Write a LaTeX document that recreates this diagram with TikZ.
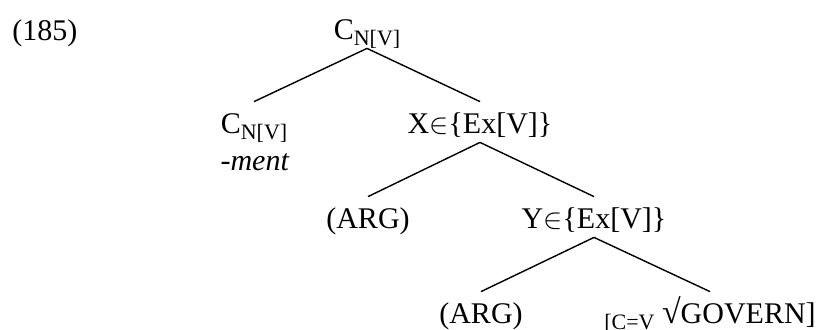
\documentclass[tikz,border=0pt]{standalone}
\usepackage{fontspec}
\setmainfont{Liberation Serif}
\usepackage{tikz}
\usetikzlibrary{positioning}
\def\lo#1{\raisebox{-0.2em}{\fontsize{11}{13}\selectfont #1}}
\tikzset{cat/.style={font=\fontsize{15}{17}\selectfont, inner xsep=0pt, inner ysep=1.5pt, text height=14pt, text depth=3pt, anchor=base},
	branch/.style={line width=0.7pt}}

\begin{document}
\begin{tikzpicture}[x=0.5pt, y=-0.5pt]
			%%%%% START %%%%%
			\useasboundingbox (0, 0) rectangle (823, 329);
			
			\node[cat, anchor=base west] (ex) at (12, 40) {(185)};
			
			\node[cat] (root) at (367, 39) {C\lo{N[V]}};
			\node[cat] (cn) at (254, 133) {C\lo{N[V]}};
			\node[cat] (ment) at (255, 170) {\textit{-ment}};
			\node[cat] (xp) at (480, 133) {X$\in$\{Ex[V]\}};
			\node[cat] (argx) at (368, 228) {(ARG)};
			\node[cat] (yp) at (594, 228) {Y$\in$\{Ex[V]\}};
			\node[cat] (argy) at (481, 323) {(ARG)};
			\node[cat] (gov) at (710, 323) {\lo{[C=V} {\fontsize{17}{17}\selectfont √}GOVERN]};
			
			\draw[branch] (root.south) -- (cn.north);
			\draw[branch] (root.south) -- (xp.north);
			\draw[branch] (xp.south) -- (argx.north);
			\draw[branch] (xp.south) -- (yp.north);
			\draw[branch] (yp.south) -- (argy.north);
			\draw[branch] (yp.south) -- (gov.north);
			
			%%%%% END %%%%%
		\end{tikzpicture}
\end{document}
